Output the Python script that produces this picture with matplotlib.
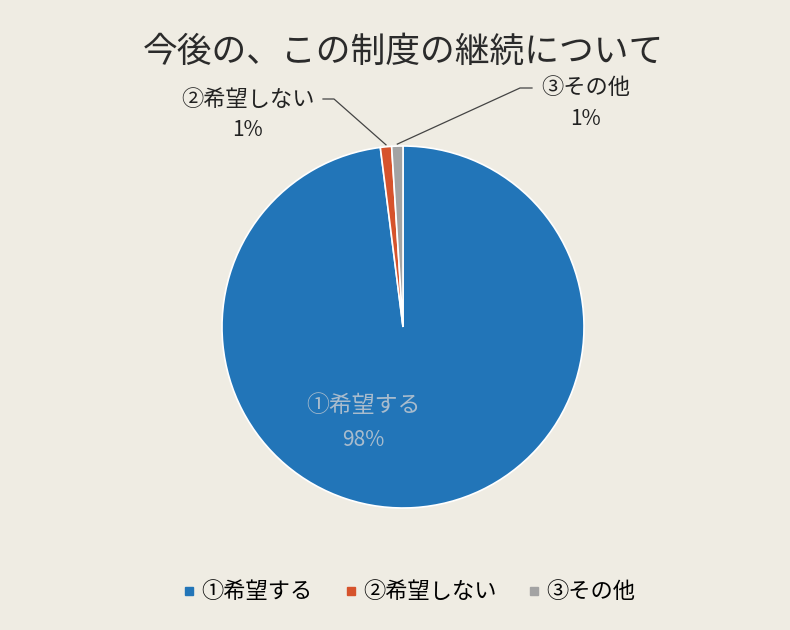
import numpy as np
import matplotlib.pyplot as plt
from matplotlib.lines import Line2D

plt.rcParams['font.family'] = ['Noto Sans CJK JP', 'DejaVu Sans']

# data
labels = ["①希望する", "②希望しない", "③その他"]
values = [98, 1, 1]
pct_text = ["98%", "1%", "1%"]
colors = ["#2275b8", "#d6532c", "#a3a3a3"]
title = "今後の、この制度の継続について"

W, H = 790, 630
fig = plt.figure(figsize=(W / 100, H / 100), dpi=100)
fig.patch.set_facecolor("#efece3")

# pie axes placed in pixels: center (403, 327), radius 181
cx, cy, r = 403, 327, 181
ax = fig.add_axes([(cx - r) / W, (H - cy - r) / H, 2 * r / W, 2 * r / H])
ax.set_facecolor("none")
wedges, _ = ax.pie(values, colors=colors, startangle=90, counterclock=False,
                   radius=1.0, wedgeprops=dict(edgecolor="white", linewidth=1.2))
ax.set_xlim(-1, 1)
ax.set_ylim(-1, 1)
ax.set_aspect("equal")
ax.axis("off")

fig.text(403 / W, 1 - 52 / H, title, ha="center", va="center", fontsize=25, color="#2b2b2b")

# inside label for the big slice
fig.text(363 / W, 1 - 405 / H, labels[0], ha="center", va="center", fontsize=16.5, color="#a9bccd")
fig.text(363 / W, 1 - 440 / H, pct_text[0], ha="center", va="center", fontsize=15, color="#a9bccd")

# outside labels with leader lines
fig.text(248 / W, 1 - 100 / H, labels[1], ha="center", va="center", fontsize=16, color="#222222")
fig.text(248 / W, 1 - 130 / H, pct_text[1], ha="center", va="center", fontsize=15, color="#222222")
fig.text(586 / W, 1 - 88 / H, labels[2], ha="center", va="center", fontsize=16, color="#222222")
fig.text(586 / W, 1 - 119 / H, pct_text[2], ha="center", va="center", fontsize=15, color="#222222")

def wedge_tip(w):
    a = np.deg2rad((w.theta1 + w.theta2) / 2)
    px, py = ax.transData.transform((np.cos(a), np.sin(a)))
    return px, py

for w, pts in [(wedges[1], [(323, 99), (334, 99)]), (wedges[2], [(532, 88), (520, 88)])]:
    tx, ty = wedge_tip(w)
    xs = [p[0] for p in pts] + [tx]
    ys = [H - p[1] for p in pts] + [ty + 2]
    fig.add_artist(Line2D(xs, ys, transform=None, color="#444444", linewidth=0.9))

handles = [Line2D([], [], marker="s", linestyle="", markersize=5.5, color=c) for c in colors]
fig.legend(handles, labels, loc="center", bbox_to_anchor=(408 / W, 1 - 592 / H), ncol=3,
           frameon=False, fontsize=16, handletextpad=0.15, columnspacing=1.3, handlelength=0.8)

fig.savefig("out.png", dpi=100, facecolor=fig.get_facecolor())
